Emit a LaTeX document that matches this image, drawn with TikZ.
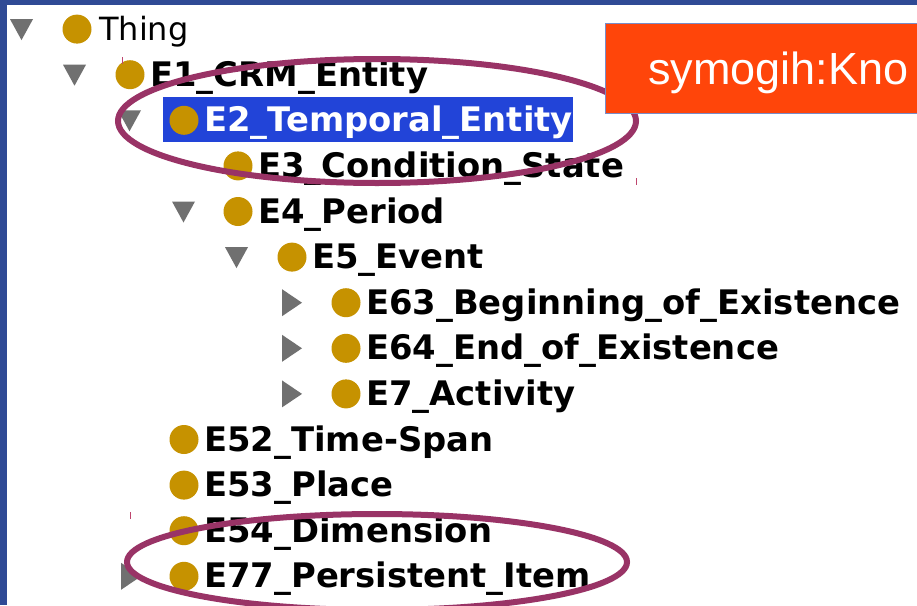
\documentclass[tikz,border=0pt]{standalone}
\usepackage{fontspec}
\setmainfont{DejaVu Sans}
\newfontfamily\labfont{Liberation Sans}
\definecolor{bgblue}{RGB}{47,74,149}
\definecolor{gold}{RGB}{198,146,0}
\definecolor{trigray}{RGB}{112,112,112}
\definecolor{selblue}{RGB}{34,68,216}
\definecolor{ringcol}{RGB}{153,51,102}
\definecolor{boxorange}{RGB}{255,69,10}
\definecolor{boxedge}{RGB}{120,140,200}
\definecolor{tickcol}{RGB}{190,70,110}
\tikzset{
  dot/.style={circle, fill=gold, minimum size=29pt, inner sep=0pt},
  itemlbl/.style={anchor=base west, inner sep=0pt, font=\fontsize{33.8}{40}\selectfont\bfseries},
  thinglbl/.style={anchor=base west, inner sep=0pt, font=\fontsize{32}{40}\selectfont},
  tri/.style={fill=trigray},
  ring/.style={draw=ringcol, line width=6pt},
  tick/.style={draw=tickcol, line width=1pt}
}
\newcommand\downtri[2]{\fill[tri] (#1,#2-10) -- ++(23,0) -- ++(-11.5,21) -- cycle;}
\newcommand\righttri[2]{\fill[tri] (#1,#2-13.5) -- ++(20,13.5) -- ++(-20,13.5) -- cycle;}
\begin{document}
\begin{tikzpicture}[x=1pt,y=-1pt]
\useasboundingbox (0,0) rectangle (917,605);
\begin{scope}
\clip (0,0) rectangle (917,605);
\fill[bgblue] (0,0) rectangle (917,605);
\fill[white] (7,5) rectangle (917,605);
% selection highlight
\fill[selblue] (163,97) rectangle (573,142);
% triangles
\downtri{10}{29.1}
\downtri{63}{74.7}
\downtri{118}{120.3}
\downtri{172}{211.5}
\downtri{225}{257.1}
\righttri{282}{302.7}
\righttri{282}{348.3}
\righttri{282}{393.9}
\righttri{121}{576.3}
% circles
\node[dot] (c0) at (77,29.1) {};
\node[dot] (c1) at (130,74.7) {};
\node[dot] (c2) at (184,120.3) {};
\node[dot] (c3) at (238,165.9) {};
\node[dot] (c4) at (238,211.5) {};
\node[dot] (c5) at (292,257.1) {};
\node[dot] (c63) at (346,302.7) {};
\node[dot] (c64) at (346,348.3) {};
\node[dot] (c7) at (346,393.9) {};
\node[dot] (c52) at (184,439.5) {};
\node[dot] (c53) at (184,485.1) {};
\node[dot] (c54) at (184,530.7) {};
\node[dot] (c77) at (184,576.3) {};
% labels
\node[thinglbl] (t0) at (99,40.6) {Thing};
\node[itemlbl] (t1) at (150,86.2) {E1\_CRM\_Entity};
\node[itemlbl, text=white] (t2) at (204,131.8) {E2\_Temporal\_Entity};
\node[itemlbl] (t3) at (258,177.4) {E3\_Condition\_State};
\node[itemlbl] (t4) at (258,223) {E4\_Period};
\node[itemlbl] (t5) at (312,268.6) {E5\_Event};
\node[itemlbl] (t63) at (366,314.2) {E63\_Beginning\_of\_Existence};
\node[itemlbl] (t64) at (366,359.8) {E64\_End\_of\_Existence};
\node[itemlbl] (t7) at (366,405.4) {E7\_Activity};
\node[itemlbl] (t52) at (204,451) {E52\_Time-Span};
\node[itemlbl] (t53) at (204,496.6) {E53\_Place};
\node[itemlbl] (t54) at (204,542.2) {E54\_Dimension};
\node[itemlbl] (t77) at (204,587.8) {E77\_Persistent\_Item};
% small ticks
\draw[tick] (122,57) -- (122,64);
\draw[tick] (636,178) -- (636,185);
\draw[tick] (130,512) -- (130,519);
% ellipses
\draw[ring] (377,121) ellipse [x radius=259pt, y radius=62pt];
\draw[ring] (377,562) ellipse [x radius=250pt, y radius=48pt];
% orange box
\fill[boxorange] (605,23) rectangle (930,113);
\draw[boxedge, line width=0.8pt] (930,23) -- (605,23) -- (605,113) -- (930,113);
\node[anchor=base west, inner sep=0pt, text=white, font=\labfont\fontsize{45}{54}\selectfont] (title) at (648,84) {symogih:Kno};
\end{scope}
\end{tikzpicture}
\end{document}
